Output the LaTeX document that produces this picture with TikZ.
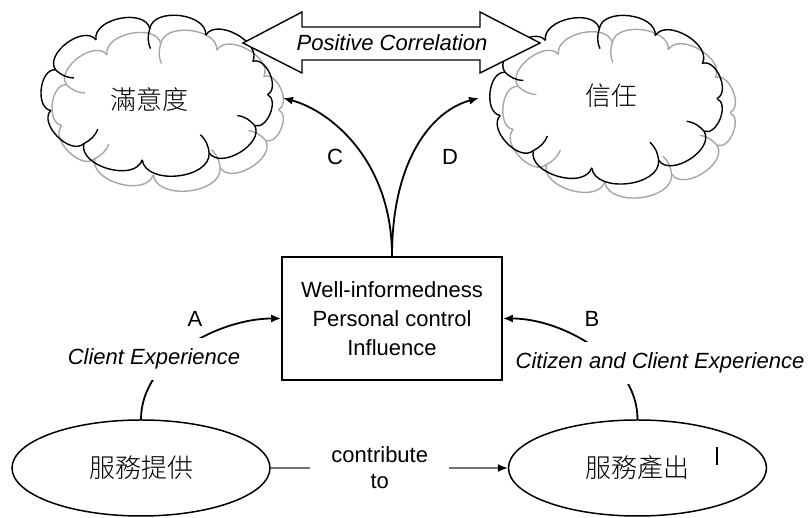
\documentclass[tikz,border=0pt]{standalone}
\usepackage{fontspec}
\setmainfont{Liberation Sans}
\newfontfamily\cjk{Noto Sans CJK TC}[UprightFont={* Light}]
\usetikzlibrary{arrows.meta,shapes.geometric}

% puffy outline round a centre: centre, x radius, y radius, colour
\newcommand{\puffcloud}[4]{%
  \foreach \a [remember=\a as \lasta (initially 0)] in {30,64,94,124,158,194,228,262,298,332,360}
    \draw[#4,line width=1.4pt] ([shift={(#1)}]\lasta:#2 and #3) to[bend right=88] ([shift={(#1)}]\a:#2 and #3);
  \foreach \a [evaluate=\a as \aout using \a+160, evaluate=\a as \ain using \a+20,
               evaluate=\a as \adir using \a+178] in {94,158,228,298,332}
    \draw[#4,line width=1.4pt] ([shift={(#1)}]\a:#2 and #3) to[out=\aout,in=\ain] ++(\adir:20);
}

\begin{document}
\begin{tikzpicture}[x=1pt,y=1pt,
    txt/.style={font=\fontsize{22}{28}\selectfont},
    expl/.style={font=\fontsize{22}{28}\selectfont\itshape,fill=white,inner xsep=2pt,inner ysep=11pt},
    conn/.style={line width=1.8pt,-{Latex[length=10pt,width=8pt]}},
    srv/.style={ellipse,draw,line width=1.5pt,minimum width=258pt,minimum height=96pt,
                font=\fontsize{26}{30}\selectfont\cjk}]
  \useasboundingbox (0,0) rectangle (809,518);

  % clouds
  \coordinate (satc) at (157.5,423.5);
  \coordinate (satg) at (168.5,408.5);
  \coordinate (trustc) at (607,419.5);
  \coordinate (trustg) at (620,405.5);
  \puffcloud{satg}{110}{66}{black!35}
  \puffcloud{satc}{110}{66}{black}
  \puffcloud{trustg}{110}{70}{black!35}
  \puffcloud{trustc}{110}{70}{black}
  \node[font=\fontsize{26}{30}\selectfont\cjk] (sat) at (149,418) {滿意度};
  \node[font=\fontsize{26}{30}\selectfont\cjk] (trust) at (611,422) {信任};
  \coordinate (satin) at (283,420);
  \coordinate (trustin) at (479,420);

  % correlation arrow
  \draw[line width=1.4pt,fill=white] (243,475) -- (302,506) -- (302,491) -- (480,491) -- (480,506)
    -- (540,475) -- (480,445) -- (480,458) -- (302,458) -- (302,445) -- cycle;
  \node[txt,font=\fontsize{22}{28}\selectfont\itshape] (corr) at (392,475) {Positive Correlation};

  % centre box
  \node[txt,draw,line width=1.8pt,minimum width=220pt,minimum height=123pt,align=center,
        font=\fontsize{22}{29}\selectfont] (info) at (392,199.5)
        {Well-informedness\\Personal control\\Influence};

  % service nodes
  \node[srv] (prov) at (141,50) {服務提供};
  \node[srv] (outp) at (637.5,50) {服務產出};

  % connectors
  \draw[conn] (info.north) .. controls +(0,95) and +(48,-13) .. (satin);
  \draw[conn] (info.north) .. controls +(0,95) and +(-48,-13) .. (trustin);
  \draw[conn] (prov.north) to[out=90,in=180,looseness=0.9] (info.west);
  \draw[conn] (outp.north) to[out=90,in=0,looseness=0.9] (info.east);
  \draw[line width=1.3pt,black!55,-{Latex[length=10pt,width=8pt,color=black]}] (prov.east)
    -- node[pos=0.46,txt,fill=white,text=black,align=center,inner xsep=21pt,
            font=\fontsize{22}{26}\selectfont] (contrib) {contribute\\to} (outp.west);

  % labels
  \node[expl] (clientexp) at (154,159) {Client Experience};
  \node[expl] (citizenexp) at (660,155) {Citizen and Client Experience};
  \node[txt] (la) at (195,199) {A};
  \node[txt] (lb) at (592,199) {B};
  \node[txt] (lc) at (335,361) {C};
  \node[txt] (ld) at (450,361) {D};
  \draw[line width=1.5pt] (717,53) -- (717,71);
\end{tikzpicture}
\end{document}
